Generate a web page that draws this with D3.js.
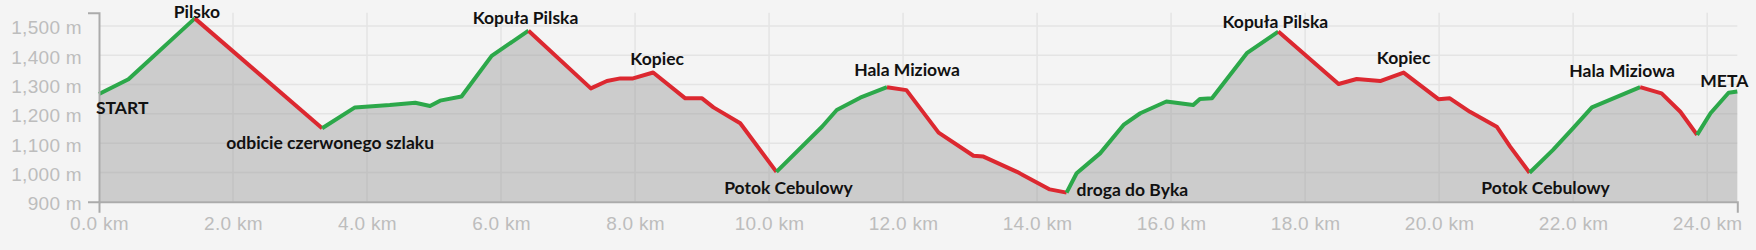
<!DOCTYPE html>
<html>
<head>
<meta charset="utf-8">
<script src="https://cdn.jsdelivr.net/npm/d3@7"></script>
<style>
	body { margin: 0; background: #f4f4f4; }
	svg { display: block; }
</style>
</head>
<body>
<svg class="profile" width="1756" height="250"></svg>
<script>
// trail profile, distance in km and elevation in m
var distanceKm = [0, 0.44, 1.43, 3.33, 3.82, 4.34, 4.72, 4.94, 5.09, 5.41, 5.86, 6.41,
	7.34, 7.58, 7.78, 7.97, 8.27, 8.75, 9.00, 9.17, 9.57, 10.11,
	10.79, 11.01, 11.36, 11.76, 12.05, 12.53, 13.05, 13.20, 13.70, 14.19, 14.44,
	14.59, 14.94, 15.29, 15.54, 15.93, 16.33, 16.43, 16.61, 17.13, 17.60,
	18.50, 18.77, 19.12, 19.47, 19.99, 20.16, 20.46, 20.86, 21.06, 21.35,
	21.70, 22.00, 22.28, 23.00, 23.32, 23.60, 23.85, 24.05, 24.32, 24.45];
var elevationM = [1268, 1318, 1526, 1151, 1222, 1230, 1238, 1227, 1245, 1259, 1398, 1484,
	1287, 1312, 1321, 1321, 1341, 1253, 1253, 1222, 1168, 1002,
	1156, 1213, 1255, 1291, 1281, 1136, 1057, 1054, 1002, 942, 931,
	997, 1065, 1162, 1202, 1242, 1230, 1251, 1253, 1407, 1481,
	1302, 1319, 1312, 1341, 1250, 1253, 1207, 1156, 1088, 999,
	1077, 1151, 1222, 1291, 1270, 1207, 1128, 1202, 1272, 1276];

// section breaks (colour changes: up = green, down = red)
var waypointKm = [0, 1.43, 3.33, 6.41, 10.11, 11.76, 14.44, 17.60, 21.35, 23.00, 23.85, 24.45];

var labelNames = ["START", "Pilsko", "odbicie czerwonego szlaku", "Kopuła Pilska", "Kopiec",
	"Potok Cebulowy", "Hala Miziowa", "droga do Byka", "Kopuła Pilska", "Kopiec",
	"Potok Cebulowy", "Hala Miziowa", "META"];
var labelKm = [0, 1.43, 3.33, 6.41, 8.27, 10.11, 11.76, 14.44, 17.60, 19.47, 21.35, 23.00, 24.45];

var xTickKm = [0, 2, 4, 6, 8, 10, 12, 14, 16, 18, 20, 22, 24];
var yTickM = [900, 1000, 1100, 1200, 1300, 1400, 1500];

var svg = d3.select(".profile");

var x = d3.scaleLinear().domain([0, 24.45]).range([99, 1737.3]);
var y = d3.scaleLinear().domain([900, 1545]).range([201.7, 12.8]);

var points = distanceKm.map((d, i) => { return {km: d, m: elevationM[i]}; });

// grid
var grid = svg.append("g").attr("class", "grid");
grid.selectAll(".vgrid")
	.data(xTickKm.slice(1))
	.enter().append("line")
		.attr("x1", (d) => { return x(d); })
		.attr("x2", (d) => { return x(d); })
		.attr("y1", y(1545))
		.attr("y2", y(900))
		.attr("stroke", "#e4e4e4")
		.attr("stroke-width", 1.5);
grid.selectAll(".hgrid")
	.data(yTickM.slice(1))
	.enter().append("line")
		.attr("x1", x(0))
		.attr("x2", x(24.45))
		.attr("y1", (d) => { return y(d); })
		.attr("y2", (d) => { return y(d); })
		.attr("stroke", "#e4e4e4")
		.attr("stroke-width", 1.5);

// filled area
var area = d3.area()
	.x((d) => { return x(d.km); })
	.y0(y(900))
	.y1((d) => { return y(d.m); });

svg.append("path")
	.datum(points)
	.attr("d", area)
	.attr("fill", "rgb(150,150,150)")
	.attr("fill-opacity", 0.43);

// coloured line, one path per section
var line = d3.line()
	.x((d) => { return x(d.km); })
	.y((d) => { return y(d.m); });

var sections = [];
for (var i = 0; i < waypointKm.length - 1; i++) {
	var seg = points.filter((p) => { return p.km >= waypointKm[i] - 1e-6 && p.km <= waypointKm[i + 1] + 1e-6; });
	sections.push({values: seg, up: seg[seg.length - 1].m > seg[0].m});
}

svg.selectAll(".section")
	.data(sections)
	.enter().append("path")
		.attr("class", "section")
		.attr("d", (d) => { return line(d.values); })
		.attr("fill", "none")
		.attr("stroke", (d) => { return d.up ? "#2ca84a" : "#dc2830"; })
		.attr("stroke-width", 4)
		.attr("stroke-linejoin", "round");

// axes
var xAxis = svg.append("g")
	.attr("class", "axis axis--x")
	.attr("transform", "translate(0," + y(900) + ")")
	.call(d3.axisBottom(x)
		.tickValues(xTickKm)
		.tickFormat((d) => { return d3.format(".1f")(d) + " km"; })
		.tickSizeInner(0)
		.tickSizeOuter(11)
		.tickPadding(15));

var yAxis = svg.append("g")
	.attr("class", "axis axis--y")
	.attr("transform", "translate(" + x(0) + ",0)")
	.call(d3.axisLeft(y)
		.tickValues(yTickM)
		.tickFormat((d) => { return d3.format(",")(d) + " m"; })
		.tickSizeInner(0)
		.tickSizeOuter(11)
		.tickPadding(17));

svg.selectAll(".axis .domain")
	.attr("stroke", "#ababab")
	.attr("stroke-width", 2);
svg.selectAll(".axis text")
	.attr("fill", "#bdbdbd")
	.style("font", "19px 'Liberation Sans', Arial, sans-serif")
	.style("letter-spacing", "0.3px");
yAxis.selectAll("text").attr("dy", "0.42em");

// waypoint labels: [anchor, dx, dy] relative to the point
var labelLayout = [
	["start", -3, 20], ["middle", 2, 0], ["middle", 8, 21], ["middle", -3, -7],
	["middle", 4, -8], ["middle", 12, 22], ["middle", 20, -11], ["start", 10, 3],
	["middle", -3, -4], ["middle", 0, -9], ["middle", 16, 21], ["middle", -18, -10],
	["middle", -13, -5]
];

var labels = labelNames.map((name, i) => {
	var p = points.reduce((a, b) => { return Math.abs(b.km - labelKm[i]) < Math.abs(a.km - labelKm[i]) ? b : a; });
	return {name: name, km: p.km, m: p.m, layout: labelLayout[i]};
});

svg.selectAll(".wp")
	.data(labels)
	.enter().append("text")
		.attr("class", "wp")
		.attr("x", (d) => { return x(d.km) + d.layout[1]; })
		.attr("y", (d) => { return y(d.m) + d.layout[2]; })
		.attr("text-anchor", (d) => { return d.layout[0]; })
		.attr("fill", "#111")
		.style("font", "bold 17.5px Lato, 'Open Sans', sans-serif")
		.text((d) => { return d.name; });
</script>
</body>
</html>
